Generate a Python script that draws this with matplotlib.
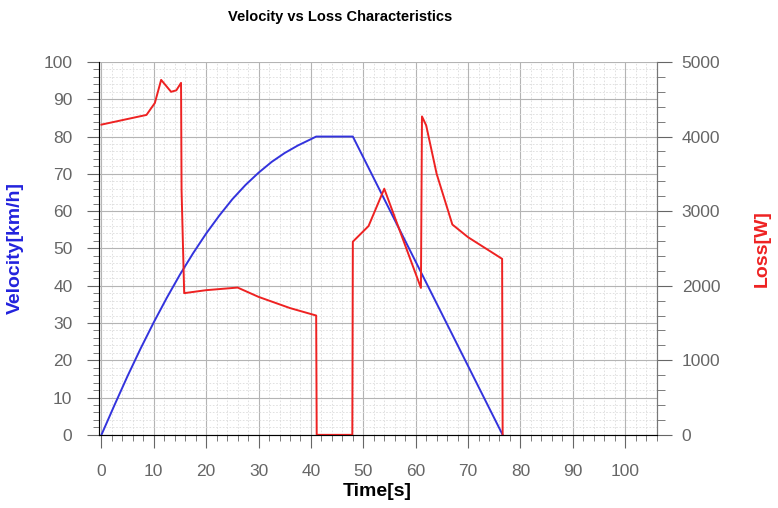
import numpy as np
import matplotlib.pyplot as plt
from matplotlib.ticker import MultipleLocator

plt.rcParams['font.family'] = ['Liberation Sans', 'DejaVu Sans']

# velocity profile [km/h]
t_vel = [0, 2.5, 5, 7.5, 10, 12.5, 15, 17.5, 20, 22.5, 25, 27.5, 30, 32.5, 35,
         37.5, 40, 41, 48, 76.6]
velocity = [0, 8, 15.8, 23.2, 30.2, 36.8, 43, 48.7, 54, 58.8, 63.2, 67, 70.3, 73.2, 75.6,
            77.6, 79.3, 80, 80, 0]

# loss profile [W]
t_loss = [0, 8.6, 10.2, 11.4, 13.3, 14.3, 15.2, 15.3, 15.8, 20, 26, 30, 36, 41, 41.1,
          47.9, 48, 51, 54, 61.0, 61.2, 62.0, 64, 67, 70, 76.5, 76.6]
loss = [4160, 4290, 4450, 4760, 4600, 4620, 4720, 3280, 1900, 1940, 1975, 1850, 1700, 1600, 0,
        0, 2590, 2800, 3300, 1970, 4270, 4150, 3500, 2820, 2650, 2360, 0]

fig = plt.figure(figsize=(7.78, 5.08), dpi=100)
ax = fig.add_axes([0.127, 0.144, 0.717, 0.734])

ax.plot(t_vel, velocity, color='#3333dd', lw=1.4)
ax.set_xlim(-0.5, 106)
ax.set_ylim(0, 100)
ax.xaxis.set_major_locator(MultipleLocator(10))
ax.xaxis.set_minor_locator(MultipleLocator(2))
ax.yaxis.set_major_locator(MultipleLocator(10))
ax.yaxis.set_minor_locator(MultipleLocator(2))
ax.grid(which='major', color='#b4b4b4', lw=0.8)
ax.grid(which='minor', color='#dcdcdc', lw=0.6, ls=(0, (2, 2)))
ax.set_axisbelow(True)
ax.tick_params(which='both', direction='out', colors='#666666', labelcolor='#666666',
               labelsize=12.5)
ax.tick_params(axis='y', which='major', length=9, pad=10)
ax.tick_params(axis='x', which='major', length=9, pad=12)
ax.tick_params(which='minor', length=4)
ax.spines['top'].set_visible(False)
for s in ['left', 'bottom', 'right']:
    ax.spines[s].set_color('#777777')
ax.set_xlabel('Time[s]', fontsize=14, fontweight='bold', labelpad=3)
ax.set_ylabel('Velocity[km/h]', fontsize=14, fontweight='bold', color='#2222dd', labelpad=14)

ax2 = ax.twinx()
ax2.plot(t_loss, loss, color='#ee2222', lw=1.4)
ax2.set_ylim(0, 5000)
ax2.yaxis.set_major_locator(MultipleLocator(1000))
ax2.yaxis.set_minor_locator(MultipleLocator(200))
ax2.tick_params(which='both', direction='out', colors='#666666', labelcolor='#666666',
                labelsize=12.5)
ax2.tick_params(which='major', length=11, pad=7)
ax2.tick_params(which='minor', length=6)
ax2.spines['top'].set_visible(False)
ax2.spines['right'].set_color('#777777')
ax2.set_ylabel('Loss[W]', fontsize=14, fontweight='bold', color='#ee2222', labelpad=24)

fig.text(0.437, 0.966, 'Velocity vs Loss Characteristics', ha='center', va='center',
         fontsize=10.5, fontweight='bold')

fig.savefig('out.png', dpi=100)
